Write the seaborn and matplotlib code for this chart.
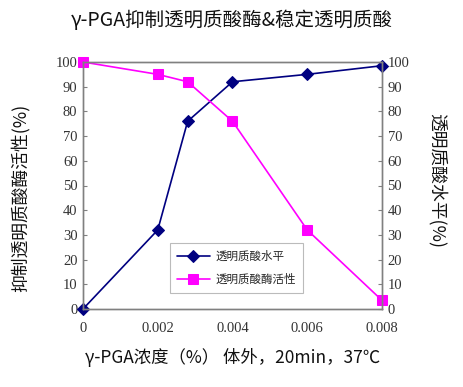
import matplotlib
matplotlib.use("Agg")
import matplotlib.pyplot as plt
import seaborn as sns
import pandas as pd

# Data
conc = [0, 0.002, 0.0028, 0.004, 0.006, 0.008]
ha_level = [0, 32, 76, 92, 95, 98.5]          # 透明质酸水平
enzyme_activity = [100, 95, 92, 76, 32, 3.5]  # 透明质酸酶活性
x_ticks = [0, 0.002, 0.004, 0.006, 0.008]
x_ticklabels = ["0", "0.002", "0.004", "0.006", "0.008"]
y_ticks = list(range(0, 101, 10))

sns.set_theme(style="white")
plt.rcParams['font.family'] = ['Noto Sans CJK SC', 'DejaVu Sans']

df = pd.DataFrame({"conc": conc, "ha": ha_level, "enz": enzyme_activity})

fig = plt.figure(figsize=(4.64, 3.87), dpi=100)
ax = fig.add_axes([83/464, 1-309/387, (382-83)/464, (309-62)/387])

sns.lineplot(data=df, x="conc", y="ha", ax=ax, color="#000080", marker="D",
             markersize=6, markeredgecolor="#000080", linewidth=1.2, label="透明质酸水平", clip_on=False)
sns.lineplot(data=df, x="conc", y="enz", ax=ax, color="#FF00FF", marker="s",
             markersize=7, markeredgecolor="#FF00FF", linewidth=1.2, label="透明质酸酶活性", clip_on=False)

ax.set_xlim(0, 0.008)
ax.set_ylim(0, 100)
ax.set_xticks(x_ticks)
ax.set_xticklabels(x_ticklabels)
ax.set_yticks(y_ticks)

ax2 = ax.twinx()
ax2.set_ylim(0, 100)
ax2.set_yticks(y_ticks)

serif = ['Liberation Serif', 'DejaVu Serif']
for a in (ax, ax2):
    for s in a.spines.values():
        s.set_color("#808080")
        s.set_linewidth(1.0)
    a.tick_params(direction="in", length=3, width=0.8, color="#808080",
                  labelsize=10.5, labelcolor="#333333")
    for lab in a.get_xticklabels() + a.get_yticklabels():
        lab.set_family(serif)
ax.tick_params(axis="x", pad=9)
ax.tick_params(axis="y", pad=4)
ax2.tick_params(axis="y", pad=4)

ax.set_xlabel("γ-PGA浓度（%） 体外，20min，37℃", fontsize=12.5, color="#111111", labelpad=10)
ax.set_ylabel("抑制透明质酸酶活性(%)", fontsize=12.8, color="#111111", va="center")
ax.yaxis.set_label_coords(-0.21, 0.45)
ax2.set_ylabel("透明质酸水平(%)", fontsize=12.8, color="#111111", rotation=270, va="center")
ax2.yaxis.set_label_coords(1.184, 0.52)
fig.suptitle("γ-PGA抑制透明质酸酶&稳定透明质酸", fontsize=14, color="#111111", y=0.975)

leg = ax.legend(loc="lower left", bbox_to_anchor=(0.29, 0.065), borderaxespad=0,
                fontsize=8.3, frameon=True, fancybox=False, edgecolor="#aaaaaa",
                borderpad=0.6, handlelength=2.9, handletextpad=0.5, labelspacing=0.9)
leg.get_frame().set_linewidth(0.8)

fig.savefig("out.png", dpi=100)
